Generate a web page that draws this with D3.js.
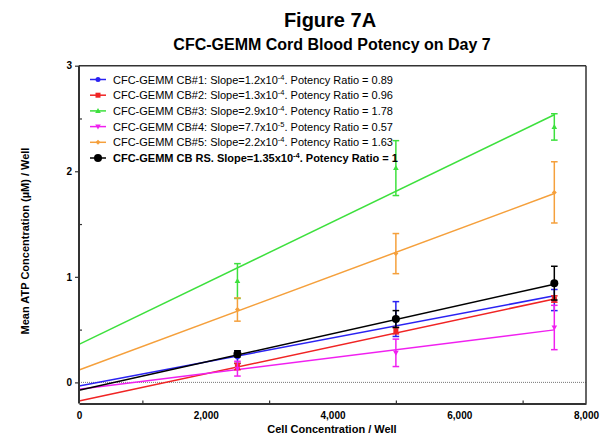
<!DOCTYPE html>
<html><head><meta charset="utf-8">
<script src="https://cdn.jsdelivr.net/npm/d3@7/dist/d3.min.js"></script>
<style>body{margin:0;background:#fff;} text{font-family:"Liberation Sans",Arial,sans-serif;}</style>
</head><body><svg id="c" width="607" height="436"></svg>
<script>
const cellCounts = [2500, 5000, 7500];
const seriesNames = ["CB#1", "CB#2", "CB#3", "CB#4", "CB#5", "CB RS"];
const seriesColors = ["#2a22f2", "#f02424", "#3de03d", "#f020f0", "#f5a03c", "#000000"];
const seriesShapes = ["circle", "square", "triangle", "triangleDown", "diamond", "bigCircle"];
const meanCB1 = [0.24, 0.60, 0.78];
const meanCB2 = [0.15, 0.49, 0.79];
const meanCB3 = [0.96, 2.03, 2.42];
const meanCB4 = [0.13, 0.28, 0.52];
const meanCB5 = [0.69, 1.22, 1.80];
const meanRS  = [0.27, 0.60, 0.94];
const errCB1 = [0.06, 0.165, 0.10];
const errCB2 = [0.03, 0.03, 0.03];
const errCB3 = [0.165, 0.26, 0.125];
const errCB4 = [0.07, 0.13, 0.21];
const errCB5 = [0.11, 0.19, 0.29];
const errRS  = [0.03, 0.08, 0.16];
const fitIntercepts = [-0.035, -0.177, 0.36, -0.065, 0.117, -0.075];
const fitSlopes = [1.14e-4, 1.29e-4, 2.90e-4, 0.75e-4, 2.23e-4, 1.34e-4];
const slopeTexts = [["1.2x10","-4"],["1.3x10","-4"],["2.9x10","-4"],["7.7x10","-5"],["2.2x10","-4"],["1.35x10","-4"]];
const potencyRatios = ["0.89", "0.96", "1.78", "0.57", "1.63", "1"];
const xTicks = [0, 2000, 4000, 6000, 8000];
const yTicks = [0, 1, 2, 3];

const means = [meanCB1, meanCB2, meanCB3, meanCB4, meanCB5, meanRS];
const errs = [errCB1, errCB2, errCB3, errCB4, errCB5, errRS];

const svg = d3.select("#c");
const L = 79, R = 586, T = 65.7, B = 403.5;
const x = d3.scaleLinear().domain([0, 8000]).range([L, R]);
const y = d3.scaleLinear().domain([-0.2, 3]).range([B, T]);

// titles
svg.append("text").attr("x", 330).attr("y", 27).attr("text-anchor", "middle")
  .attr("font-size", 20).attr("font-weight", "bold").text("Figure 7A");
svg.append("text").attr("x", 332).attr("y", 50).attr("text-anchor", "middle")
  .attr("font-size", 16).attr("font-weight", "bold").text("CFC-GEMM Cord Blood Potency on Day 7");

// zero dotted line
svg.append("line").attr("x1", L).attr("x2", R).attr("y1", y(0)).attr("y2", y(0))
  .attr("stroke", "#777").attr("stroke-width", 1).attr("stroke-dasharray", "1,1");

// fit lines
seriesNames.forEach((n, i) => {
  const line = d3.line().x(d => x(d)).y(d => y(fitIntercepts[i] + fitSlopes[i] * d));
  svg.append("path").datum([0, 7500]).attr("d", line).attr("fill", "none")
    .attr("stroke", seriesColors[i]).attr("stroke-width", 1.5);
});

function marker(g, shape, cx, cy, color) {
  if (shape === "circle") g.append("circle").attr("cx", cx).attr("cy", cy).attr("r", 2.5).attr("fill", color);
  else if (shape === "bigCircle") g.append("circle").attr("cx", cx).attr("cy", cy).attr("r", 4).attr("fill", color);
  else if (shape === "square") g.append("rect").attr("x", cx - 2.5).attr("y", cy - 2.5).attr("width", 5).attr("height", 5).attr("fill", color);
  else if (shape === "triangle") g.append("path").attr("d", `M${cx},${cy-3}L${cx+2.8},${cy+2}L${cx-2.8},${cy+2}Z`).attr("fill", color);
  else if (shape === "triangleDown") g.append("path").attr("d", `M${cx},${cy+3}L${cx+2.8},${cy-2}L${cx-2.8},${cy-2}Z`).attr("fill", color);
  else if (shape === "diamond") g.append("path").attr("d", `M${cx},${cy-2.5}L${cx+2.5},${cy}L${cx},${cy+2.5}L${cx-2.5},${cy}Z`).attr("fill", color);
}

// error bars and points
seriesNames.forEach((n, i) => {
  const g = svg.append("g");
  cellCounts.forEach((c, j) => {
    const cx = x(c), lo = y(means[i][j] - errs[i][j]), hi = y(means[i][j] + errs[i][j]);
    g.append("line").attr("x1", cx).attr("x2", cx).attr("y1", lo).attr("y2", hi).attr("stroke", seriesColors[i]).attr("stroke-width", 1.5);
    [lo, hi].forEach(yy => g.append("line").attr("x1", cx - 3.3).attr("x2", cx + 3.3).attr("y1", yy).attr("y2", yy).attr("stroke", seriesColors[i]).attr("stroke-width", 1.5));
    marker(g, seriesShapes[i], cx, y(means[i][j]), seriesColors[i]);
  });
});

// frame
svg.append("line").attr("x1", L).attr("x2", R).attr("y1", T).attr("y2", T).attr("stroke", "#333").attr("stroke-width", 1.5);
svg.append("line").attr("x1", R).attr("x2", R).attr("y1", T).attr("y2", B).attr("stroke", "#333").attr("stroke-width", 1.5);

// axes
const xAxis = d3.axisBottom(x).tickValues(xTicks).tickSize(0).tickPadding(8).tickFormat(d3.format(","));
const gx = svg.append("g").attr("transform", `translate(0,${B})`).call(xAxis);
gx.select(".domain").attr("stroke", "#333").attr("stroke-width", 2);
gx.selectAll("text").attr("font-size", 10).attr("font-weight", "bold").attr("fill", "#000")
  .style("font-family", "'Liberation Sans',Arial,sans-serif");
const gxm = svg.append("g").attr("transform", `translate(0,${B})`)
  .call(d3.axisTop(x).tickValues([1000, 3000, 5000, 7000]).tickSize(3).tickFormat(""));
gxm.select(".domain").remove();
gxm.selectAll("line").attr("stroke", "#333").attr("stroke-width", 1.2);

const yAxis = d3.axisLeft(y).tickValues(yTicks).tickSize(4).tickPadding(3).tickFormat(d3.format("d"));
const gy = svg.append("g").attr("transform", `translate(${L},0)`).call(yAxis);
gy.select(".domain").attr("stroke", "#333").attr("stroke-width", 2).attr("d", `M0,${B}V${T}`);
gy.selectAll("line").attr("stroke", "#333").attr("stroke-width", 1.2);
gy.selectAll("text").attr("font-size", 10).attr("font-weight", "bold").attr("fill", "#000")
  .style("font-family", "'Liberation Sans',Arial,sans-serif");
const gym = svg.append("g").attr("transform", `translate(${L},0)`)
  .call(d3.axisRight(y).tickValues([0.5, 1.5, 2.5]).tickSize(3).tickFormat(""));
gym.select(".domain").remove();
gym.selectAll("line").attr("stroke", "#333").attr("stroke-width", 1.2);

// axis titles
svg.append("text").attr("x", 332).attr("y", 433).attr("text-anchor", "middle")
  .attr("font-size", 11).attr("font-weight", "bold").text("Cell Concentration / Well");
svg.append("text").attr("transform", "translate(29,241) rotate(-90)").attr("text-anchor", "middle")
  .attr("font-size", 11).attr("font-weight", "bold").text("Mean ATP Concentration (\u00b5M) / Well");

// legend
seriesNames.forEach((n, i) => {
  const ly = 79.5 + i * 15.7;
  const g = svg.append("g");
  g.append("line").attr("x1", 90).attr("x2", 106).attr("y1", ly).attr("y2", ly).attr("stroke", seriesColors[i]).attr("stroke-width", 1.5);
  marker(g, seriesShapes[i], 98, ly, seriesColors[i]);
  const t = g.append("text").attr("x", 113).attr("y", ly + 4).attr("font-size", 11)
    .attr("font-weight", i === 5 ? "bold" : "normal");
  const prefix = i === 5 ? "CFC-GEMM CB RS. Slope=" : `CFC-GEMM ${n}: Slope=`;
  t.append("tspan").text(prefix + slopeTexts[i][0]);
  t.append("tspan").attr("dy", -4).attr("font-size", 7.5).text(slopeTexts[i][1]);
  t.append("tspan").attr("dy", 4).text(`. Potency Ratio = ${potencyRatios[i]}`);
});
</script></body></html>
